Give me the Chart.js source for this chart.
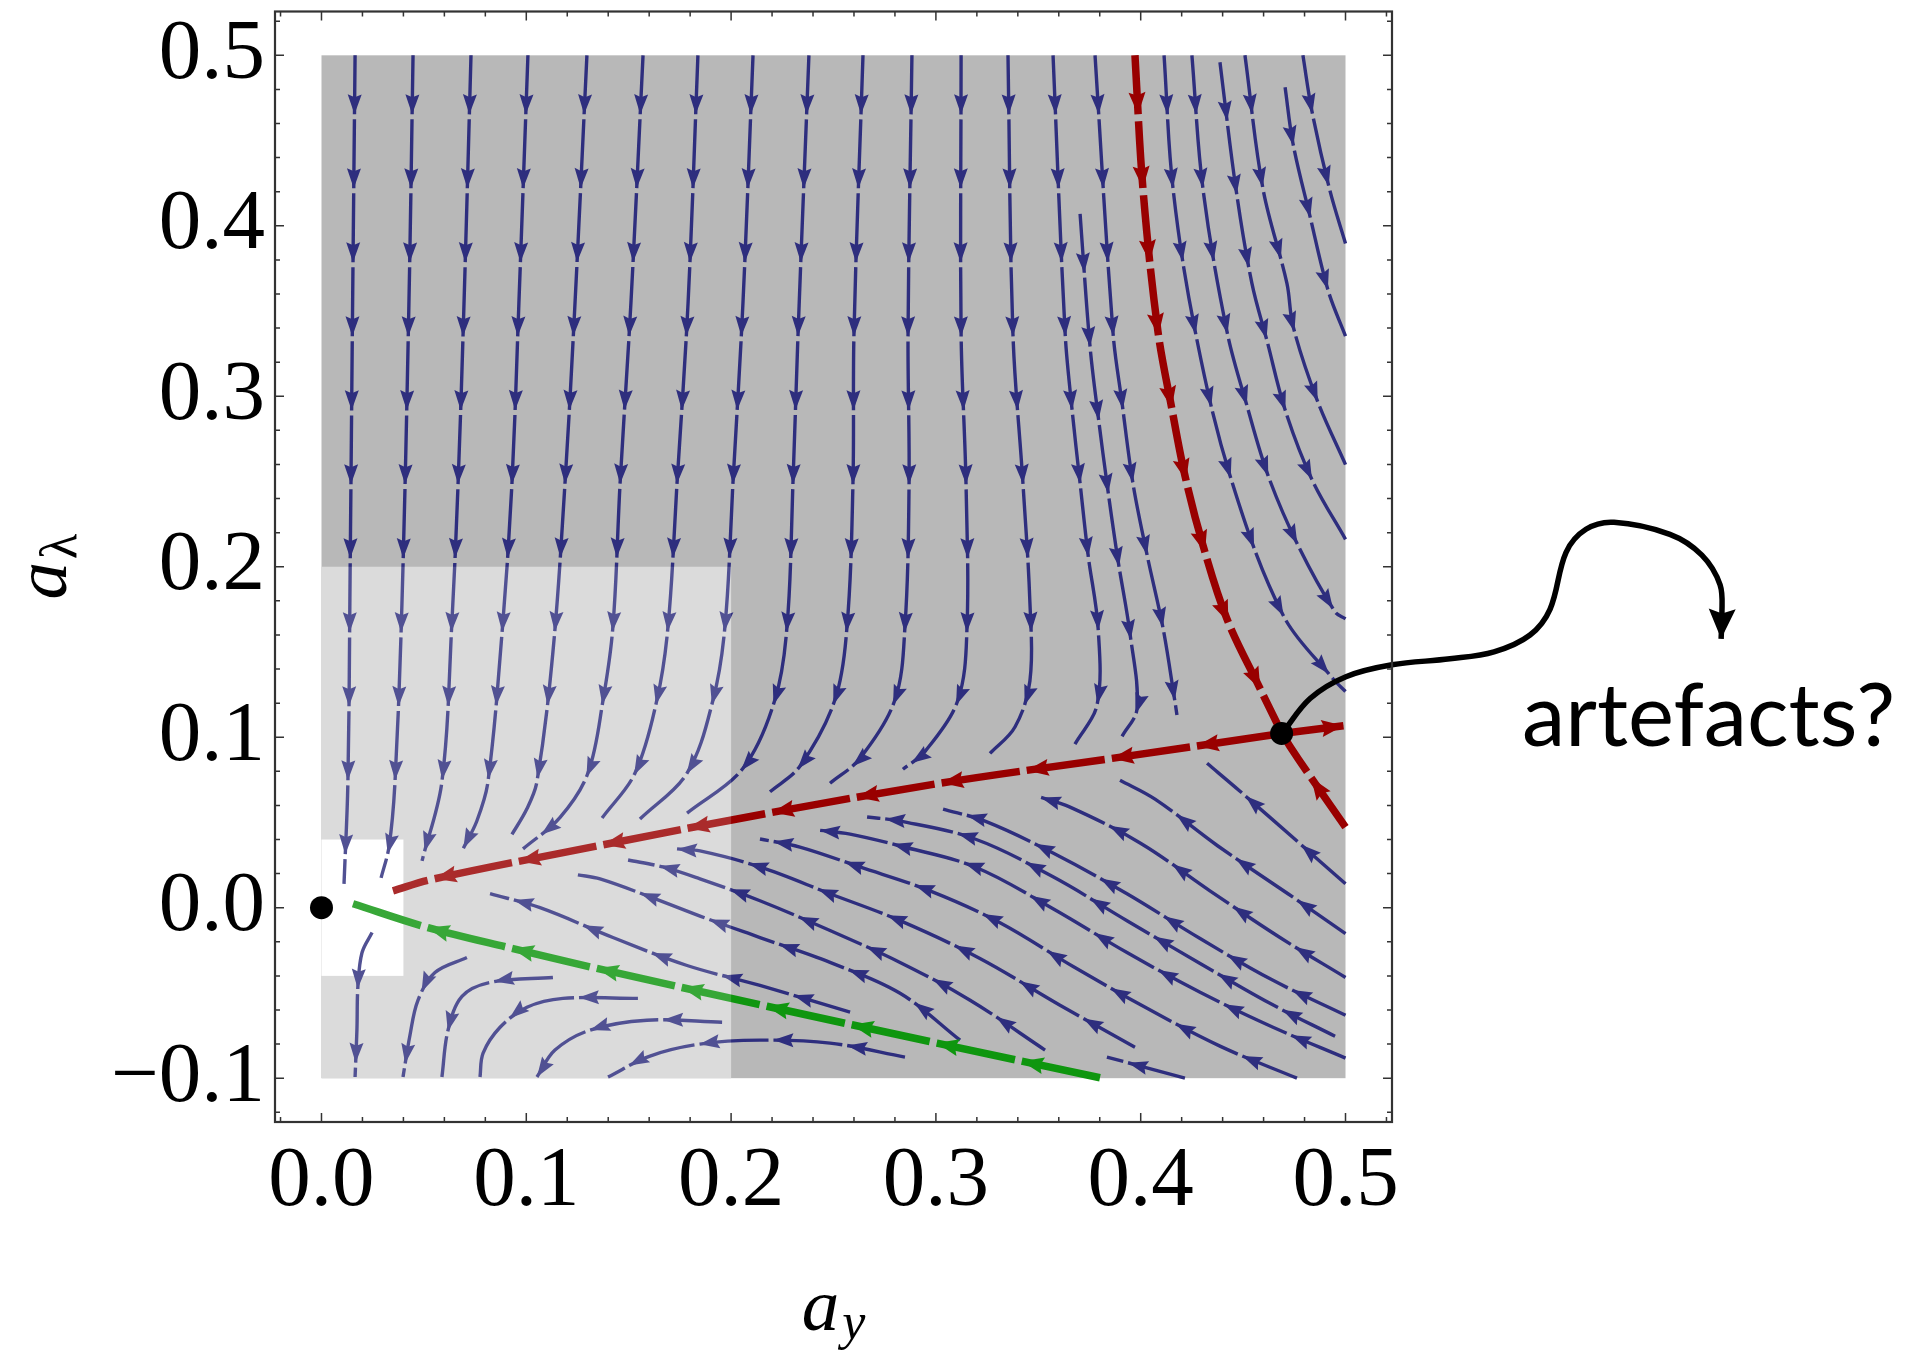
<!DOCTYPE html>
<html>
<head>
<meta charset="utf-8">
<script src="https://cdn.jsdelivr.net/npm/chart.js@4.4.1/dist/chart.umd.min.js"></script>
<style>
  html, body { margin: 0; padding: 0; background: #fff; }
</style>
</head>
<body>
<canvas id="flow" width="1910" height="1352"></canvas>
<script>
// axes
const xRange = [-0.0227, 0.5227];
const yRange = [-0.1257, 0.5257];
const xTicks = [0, 0.1, 0.2, 0.3, 0.4, 0.5];
const yTicks = [-0.1, 0, 0.1, 0.2, 0.3, 0.4, 0.5];
const xMinor = [-0.02, 0.02, 0.04, 0.06, 0.08, 0.12, 0.14, 0.16, 0.18, 0.22, 0.24, 0.26, 0.28,
                0.32, 0.34, 0.36, 0.38, 0.42, 0.44, 0.46, 0.48, 0.52];
const yMinor = [-0.12, -0.08, -0.06, -0.04, -0.02, 0.02, 0.04, 0.06, 0.08, 0.12, 0.14, 0.16, 0.18,
                0.22, 0.24, 0.26, 0.28, 0.32, 0.34, 0.36, 0.38, 0.42, 0.44, 0.46, 0.48, 0.52];

// shaded plot regions [x0, x1, y0, y1]
const darkRegion = [0, 0.5, -0.1, 0.5];
const lightRegion = [0, 0.2, -0.1, 0.2];
const clearRegion = [0, 0.04, -0.04, 0.04];

// stream lines, points listed in flow direction
const blueLines = [
  [[0.0164,0.5],[0.0152,0.355],[0.0140,0.20],[0.0129,0.074],[0.0110,0.014]],
  [[0.0447,0.5],[0.0427,0.355],[0.0393,0.179],[0.0359,0.074],[0.0330,0.036],[0.0291,0.0175]],
  [[0.0730,0.5],[0.0696,0.355],[0.0667,0.249],[0.0637,0.168],[0.0588,0.074],[0.0491,0.0275]],
  [[0.1008,0.5],[0.0964,0.355],[0.0930,0.249],[0.0886,0.168],[0.0813,0.074],[0.0759,0.051],[0.0691,0.0345]],
  [[0.1296,0.5],[0.1238,0.355],[0.1189,0.249],[0.1130,0.150],[0.1052,0.074],[0.1003,0.058],[0.0930,0.043]],
  [[0.1570,0.5],[0.1511,0.355],[0.1458,0.249],[0.1423,0.165],[0.1375,0.122],[0.1301,0.079],[0.1165,0.053],[0.0984,0.0345]],
  [[0.1838,0.5],[0.1790,0.355],[0.1736,0.249],[0.1692,0.165],[0.1638,0.122],[0.1531,0.079],[0.1370,0.0526]],
  [[0.2107,0.5],[0.2058,0.355],[0.2009,0.249],[0.1970,0.165],[0.1912,0.122],[0.1785,0.079],[0.1555,0.052]],
  [[0.2380,0.5],[0.2327,0.337],[0.2302,0.249],[0.2273,0.165],[0.2214,0.122],[0.2058,0.0818],[0.1785,0.0555]],
  [[0.2644,0.5],[0.2600,0.337],[0.2595,0.249],[0.2566,0.165],[0.2507,0.122],[0.2336,0.083],[0.2190,0.068]],
  [[0.2883,0.5],[0.2864,0.337],[0.2869,0.249],[0.2849,0.165],[0.2800,0.122],[0.2629,0.0876],[0.2483,0.073]],
  [[0.3123,0.5],[0.3123,0.337],[0.3147,0.249],[0.3152,0.165],[0.3108,0.122],[0.2947,0.0917],[0.2839,0.0812]],
  [[0.3352,0.5],[0.3376,0.337],[0.3425,0.249],[0.3459,0.179],[0.3459,0.133],[0.3386,0.106],[0.3264,0.0905]],
  [[0.3572,0.5],[0.3631,0.337],[0.3665,0.292],[0.3704,0.249],[0.3743,0.207],[0.3792,0.164],[0.3787,0.119],[0.3679,0.096]],
  [[0.3704,0.407],[0.3752,0.330],[0.3792,0.2886],[0.3840,0.2447],[0.3889,0.2039],[0.3948,0.1606],[0.3982,0.1168],[0.3909,0.1005]],
  [[0.3777,0.5],[0.3865,0.337],[0.3909,0.296],[0.3962,0.249],[0.4031,0.207],[0.4109,0.164],[0.4167,0.121],[0.4177,0.113]],
  [[0.4114,0.5],[0.4158,0.4217],[0.4265,0.3388],[0.4436,0.2535],[0.4695,0.1717],[0.4939,0.1343],[0.5,0.1268]],
  [[0.4250,0.5],[0.4304,0.4217],[0.4421,0.3382],[0.4519,0.2944],[0.4622,0.2535],[0.4768,0.2126],[0.4949,0.1735],[0.5,0.1694]],
  [[0.4387,0.4959],[0.4465,0.4217],[0.4543,0.3662],[0.4617,0.3324],[0.4705,0.2921],[0.4836,0.2512],[0.5,0.2161]],
  [[0.4509,0.5],[0.4597,0.4217],[0.4714,0.3662],[0.4744,0.3411],[0.4861,0.2979],[0.5,0.2599]],
  [[0.4705,0.4813],[0.4744,0.4480],[0.4827,0.4054],[0.4915,0.3621],[0.5,0.3353]],
  [[0.4792,0.5],[0.4836,0.4673],[0.4924,0.4206],[0.5,0.3896]],
  // fan between the red and the green line
  [[0.5,0.0140],[0.4763,0.0391],[0.4485,0.0683],[0.4324,0.0847]],
  [[0.5,-0.0152],[0.4719,0.0082],[0.4377,0.0362],[0.4070,0.0637],[0.3899,0.0748]],
  [[0.5,-0.0409],[0.4680,-0.0175],[0.4338,0.0099],[0.3997,0.0380],[0.3655,0.0590],[0.3494,0.0654]],
  [[0.5,-0.0631],[0.4646,-0.0426],[0.4290,-0.0181],[0.3933,0.0082],[0.3572,0.0321],[0.3240,0.0508],[0.3035,0.0578]],
  [[0.4949,-0.0754],[0.4631,-0.0561],[0.4290,-0.0327],[0.3933,-0.0076],[0.3572,0.0181],[0.3191,0.0403],[0.2825,0.0508],[0.2664,0.0532]],
  [[0.5,-0.0882],[0.4646,-0.0701],[0.4290,-0.0496],[0.3933,-0.0263],[0.3572,-0.0006],[0.3191,0.0239],[0.2825,0.0362],[0.2581,0.0432],[0.2419,0.0456]],
  [[0.4763,-0.1],[0.4387,-0.0812],[0.4031,-0.0590],[0.3670,-0.0345],[0.3313,-0.0088],[0.2971,0.0099],[0.2629,0.0239],[0.2336,0.0356],[0.2141,0.0403]],
  [[0.4216,-0.1],[0.3835,-0.0876]],
  [[0.3972,-0.0818],[0.3606,-0.0572],[0.3215,-0.0298],[0.2825,-0.0076],[0.2483,0.0082],[0.2141,0.0239],[0.1848,0.0333],[0.1736,0.0345]],
  [[0.3533,-0.0835],[0.3167,-0.0543],[0.2825,-0.0321],[0.2483,-0.0134],[0.2141,0.0041],[0.1848,0.0169],[0.1667,0.0239],[0.1497,0.0280]],
  [[0.3118,-0.0777],[0.2825,-0.0502],[0.2483,-0.0321],[0.2141,-0.0175],[0.1882,-0.0064],[0.1604,0.0064],[0.1360,0.0169],[0.1252,0.0193]],
  [[0.2581,-0.0613],[0.2141,-0.0456],[0.1785,-0.0339],[0.1423,-0.0175],[0.1067,0],[0.0823,0.0082]],
  // below the green line
  [[0.0710,-0.0292],[0.0554,-0.0380],[0.0471,-0.0543],[0.0432,-0.0748],[0.0398,-0.0993]],
  [[0.1130,-0.0409],[0.0823,-0.0438],[0.0686,-0.0520],[0.0618,-0.0718],[0.0588,-0.0993]],
  [[0.1545,-0.0532],[0.1179,-0.0532],[0.1003,-0.0584],[0.0872,-0.0701],[0.0789,-0.0853],[0.0774,-0.0993]],
  [[0.1956,-0.0672],[0.1589,-0.0660],[0.1311,-0.0718],[0.1140,-0.0835],[0.1052,-0.0993]],
  [[0.2849,-0.0876],[0.2483,-0.0794],[0.2141,-0.0777],[0.1848,-0.0800],[0.1604,-0.0870],[0.1399,-0.0993]],
  [[0.0247,-0.0146],[0.0198,-0.0263],[0.0178,-0.0456],[0.0173,-0.0718],[0.0164,-0.0993]]
];

// separatrices
const redDown = [[0.3972,0.5],[0.4011,0.4217],[0.4084,0.3382],[0.4153,0.2921],[0.4216,0.2535],[0.4304,0.2126],[0.4421,0.1694],[0.4583,0.1285],[0.4690,0.1022]];
const redUp = [[0.5,0.0473],[0.4827,0.0771],[0.4729,0.0946],[0.4690,0.1022]];
const redLeft = [[0.4690,0.1022],[0.3860,0.0876],[0.3020,0.0730],[0.2183,0.0555],[0.1345,0.0362],[0.0530,0.0164],[0.0349,0.0099]];
const redRight = [[0.4690,0.1022],[0.5,0.1069]];
const greenLine = [[0.3811,-0.1],[0.3005,-0.0794],[0.2175,-0.0578],[0.1345,-0.0356],[0.0935,-0.0240],[0.0520,-0.0117],[0.0154,0.0023]];

// fixed points
const fixedPoints = [[0, 0], [0.4688, 0.1022]];

// annotation
const notePath = [[0.4690,0.1022],[0.4827,0.1227],[0.5002,0.1355],[0.5227,0.1425],[0.5510,0.1460],[0.5725,0.1501],
  [0.5901,0.1600],[0.5999,0.1752],[0.6077,0.2085],[0.6174,0.2220],[0.6311,0.2261],[0.6584,0.2190],
  [0.6740,0.2068],[0.6829,0.1893],[0.6838,0.1717],[0.6834,0.1577]];
const noteText = 'artefacts?';
const notePos = [0.5862, 0.0946];

const toXY = pts => pts.map(([x, y]) => ({ x, y }));

function streamSet(pts, color, width, arrows) {
  const offset = ((arrows.spacing - arrows.gap - arrows.offset) % arrows.spacing + arrows.spacing) % arrows.spacing;
  return {
    data: toXY(pts),
    showLine: true,
    borderColor: color,
    borderWidth: width,
    borderDash: [arrows.spacing - arrows.gap, arrows.gap],
    borderDashOffset: offset,
    borderJoinStyle: 'round',
    pointRadius: 0,
    tension: 0.35,
    capBezierPoints: false,
    arrows: arrows
  };
}

const blueArrows = { spacing: 74, offset: 59, len: 20, wid: 14, gap: 5 };
const redArrows = { len: 22, wid: 17, gap: 7 };
const datasets = [];
blueLines.forEach(l => datasets.push(streamSet(l, '#2e2e7e', 3.4, blueArrows)));
datasets.push(streamSet(redDown, '#990000', 7.5, { ...redArrows, spacing: 74, offset: 59 }));
datasets.push(streamSet(redUp, '#990000', 7.5, { ...redArrows, spacing: 85, offset: 60 }));
datasets.push(streamSet(redRight, '#990000', 7.5, { ...redArrows, spacing: 85, offset: 62 }));
datasets.push(streamSet(redLeft, '#990000', 7.5, { ...redArrows, spacing: 86, offset: 86 }));
const greenSet = streamSet(greenLine, '#0f960f', 7.5, { ...redArrows, spacing: 87, offset: 82 });
greenSet.overlayAfter = true;
datasets.push(greenSet);
datasets.push({
  data: toXY(fixedPoints), showLine: false, pointRadius: 11.5, pointHoverRadius: 11.5,
  pointBackgroundColor: '#000', pointBorderWidth: 0
});
datasets.push({
  data: toXY(notePath), showLine: true, borderColor: '#000', borderWidth: 5.5, pointRadius: 0,
  tension: 0.35, capBezierPoints: false, clip: false, endArrow: { len: 30, wid: 27 }
});
// first listed is drawn first
datasets.forEach((d, i) => { d.order = datasets.length - i; });

function tracePath(elems) {
  const path = [{ x: elems[0].x, y: elems[0].y, s: 0 }];
  let s = 0;
  for (let i = 0; i < elems.length - 1; i++) {
    const p = elems[i], q = elems[i + 1];
    const c1x = p.cp2x ?? p.x, c1y = p.cp2y ?? p.y;
    const c2x = q.cp1x ?? q.x, c2y = q.cp1y ?? q.y;
    let px = p.x, py = p.y;
    for (let k = 1; k <= 30; k++) {
      const t = k / 30, u = 1 - t;
      const x = u*u*u*p.x + 3*u*u*t*c1x + 3*u*t*t*c2x + t*t*t*q.x;
      const y = u*u*u*p.y + 3*u*u*t*c1y + 3*u*t*t*c2y + t*t*t*q.y;
      s += Math.hypot(x - px, y - py);
      path.push({ x, y, s });
      px = x; py = y;
    }
  }
  return path;
}

function pointAt(path, s) {
  let j = 1;
  while (j < path.length - 1 && path[j].s < s) j++;
  const a = path[j - 1], b = path[j];
  const seg = b.s - a.s || 1;
  const f = Math.min(1, Math.max(0, (s - a.s) / seg));
  const dx = b.x - a.x, dy = b.y - a.y, d = Math.hypot(dx, dy) || 1;
  return { x: a.x + dx * f, y: a.y + dy * f, ux: dx / d, uy: dy / d };
}

function drawHead(ctx, p, len, wid) {
  const bx = p.x - p.ux * len, by = p.y - p.uy * len;
  const nx = -p.uy * wid / 2, ny = p.ux * wid / 2;
  ctx.beginPath();
  ctx.moveTo(p.x, p.y);
  ctx.lineTo(bx + nx, by + ny);
  ctx.lineTo(p.x - p.ux * len * 0.85, p.y - p.uy * len * 0.85);
  ctx.lineTo(bx - nx, by - ny);
  ctx.closePath();
  ctx.fill();
}

function fillRegion(chart, r, color) {
  const sx = chart.scales.x, sy = chart.scales.y;
  const x0 = sx.getPixelForValue(r[0]), x1 = sx.getPixelForValue(r[1]);
  const y0 = sy.getPixelForValue(r[3]), y1 = sy.getPixelForValue(r[2]);
  chart.ctx.fillStyle = color;
  chart.ctx.fillRect(x0, y0, x1 - x0, y1 - y0);
}

const flowPlugin = {
  id: 'flow',
  beforeDatasetsDraw(chart) {
    const ctx = chart.ctx;
    ctx.save();
    fillRegion(chart, darkRegion, '#b8b8b8');
    fillRegion(chart, lightRegion, '#d4d4d4');
    fillRegion(chart, clearRegion, '#ffffff');
    ctx.restore();
  },
  afterDatasetDraw(chart, args) {
    const ds = chart.data.datasets[args.index];
    const ctx = chart.ctx;
    if (ds.arrows || ds.endArrow) {
      const path = tracePath(args.meta.data);
      const total = path[path.length - 1].s;
      ctx.save();
      ctx.fillStyle = ds.borderColor;
      if (ds.arrows) {
        for (let s = ds.arrows.offset; s <= total + 1; s += ds.arrows.spacing) {
          drawHead(ctx, pointAt(path, s), ds.arrows.len, ds.arrows.wid);
        }
      }
      if (ds.endArrow) drawHead(ctx, pointAt(path, total), ds.endArrow.len, ds.endArrow.wid);
      ctx.restore();
    }
    if (ds.overlayAfter) {
      ctx.save();
      fillRegion(chart, lightRegion, 'rgba(255,255,255,0.17)');
      ctx.restore();
    }
  },
  afterDraw(chart) {
    const ctx = chart.ctx, a = chart.chartArea;
    const sx = chart.scales.x, sy = chart.scales.y;
    ctx.save();
    // frame
    ctx.strokeStyle = '#333';
    ctx.lineWidth = 2.2;
    ctx.strokeRect(a.left, a.top, a.right - a.left, a.bottom - a.top);
    // inward ticks on all four sides
    ctx.lineWidth = 1.5;
    const vTick = (v, len) => {
      const x = sx.getPixelForValue(v);
      ctx.beginPath();
      ctx.moveTo(x, a.bottom); ctx.lineTo(x, a.bottom - len);
      ctx.moveTo(x, a.top); ctx.lineTo(x, a.top + len);
      ctx.stroke();
    };
    const hTick = (v, len) => {
      const y = sy.getPixelForValue(v);
      ctx.beginPath();
      ctx.moveTo(a.left, y); ctx.lineTo(a.left + len, y);
      ctx.moveTo(a.right, y); ctx.lineTo(a.right - len, y);
      ctx.stroke();
    };
    xTicks.forEach(v => vTick(v, 9));
    xMinor.forEach(v => vTick(v, 5));
    yTicks.forEach(v => hTick(v, 9));
    yMinor.forEach(v => hTick(v, 5));

    // axis titles
    ctx.fillStyle = '#000';
    ctx.textBaseline = 'alphabetic';
    const big = 'italic 75px "Liberation Serif"', small = 'italic 52px "Liberation Serif"';
    ctx.font = big; const wa = ctx.measureText('a').width;
    ctx.font = small; const wy = ctx.measureText('y').width;
    const cx = (a.left + a.right) / 2 - (wa + 3 + wy) / 2;
    ctx.font = big; ctx.fillText('a', cx, a.bottom + 208);
    ctx.font = small; ctx.fillText('y', cx + wa + 3, a.bottom + 217);

    ctx.save();
    ctx.translate(66, (a.top + a.bottom) / 2);
    ctx.rotate(-Math.PI / 2);
    ctx.font = '52px "Liberation Serif"'; const wl = ctx.measureText('\u03bb').width;
    const lx = -(wa + 3 + wl) / 2;
    ctx.font = big; ctx.fillText('a', lx, 0);
    ctx.font = '52px "Liberation Serif"'; ctx.fillText('\u03bb', lx + wa + 3, 10);
    ctx.restore();

    // annotation text
    ctx.font = '87px Lato';
    ctx.fillText(noteText, sx.getPixelForValue(notePos[0]), sy.getPixelForValue(notePos[1]));
    ctx.restore();
  }
};

const fmt = v => (v < 0 ? '\u2212' : '') + Math.abs(v).toFixed(1);

new Chart(document.getElementById('flow'), {
  type: 'scatter',
  data: { datasets: datasets },
  options: {
    responsive: false,
    devicePixelRatio: 1,
    animation: false,
    events: [],
    layout: { padding: { left: 0, top: 7, right: 518, bottom: 0 } },
    plugins: { legend: { display: false }, tooltip: { enabled: false } },
    scales: {
      x: {
        type: 'linear', position: 'bottom', min: xRange[0], max: xRange[1],
        grid: { display: false, drawTicks: false }, border: { display: false },
        ticks: { font: { family: 'Liberation Serif', size: 85 }, color: '#000', padding: 10,
                 maxRotation: 0, autoSkip: false, callback: fmt },
        afterBuildTicks: s => { s.ticks = xTicks.map(v => ({ value: v })); },
        afterFit: s => { s.height = 230; s.paddingLeft = 0; s.paddingRight = 0; }
      },
      y: {
        type: 'linear', position: 'left', min: yRange[0], max: yRange[1],
        grid: { display: false, drawTicks: false }, border: { display: false },
        ticks: { font: { family: 'Liberation Serif', size: 85 }, color: '#000', padding: 10,
                 autoSkip: false, callback: fmt },
        afterBuildTicks: s => { s.ticks = yTicks.map(v => ({ value: v })); },
        afterFit: s => { s.width = 275; s.paddingTop = 0; s.paddingBottom = 0; }
      }
    }
  },
  plugins: [flowPlugin]
});
</script>
</body>
</html>
